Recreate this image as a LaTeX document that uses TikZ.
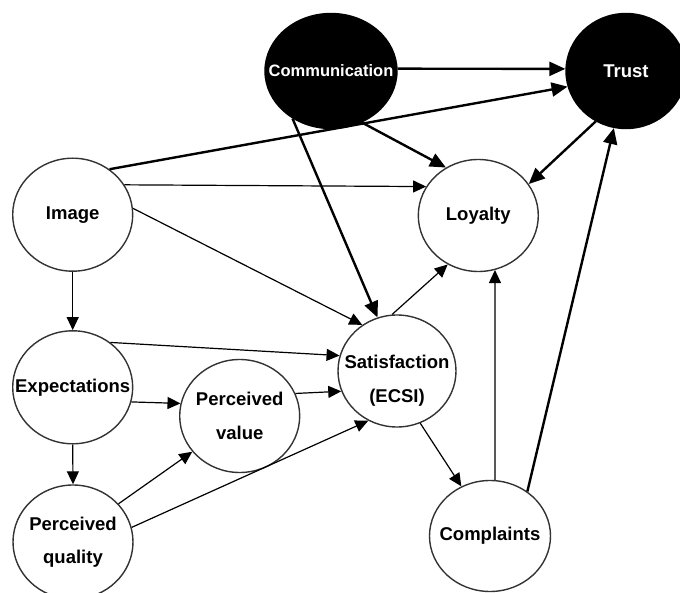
\documentclass[tikz,border=0pt]{standalone}
\usepackage{fontspec}
\setsansfont{Liberation Sans}
\usetikzlibrary{arrows.meta, shapes.geometric}

% zero-width line, so the ellipse keeps its fixed size
\newcommand{\ctext}[1]{\makebox[0pt]{#1}}

\begin{document}
\begin{tikzpicture}[x=1pt, y=-1pt, font=\sffamily\bfseries\fontsize{18.5}{33.5}\selectfont]

  % Styles
  \tikzset{
    construct/.style={ellipse, draw=black!80, line width=1.4pt, fill=white,
      minimum width=120pt, minimum height=113pt, inner sep=0pt, align=center},
    dark construct/.style={construct, draw=black, fill=black, text=white,
      minimum height=115pt},
    link/.style={-{Triangle[length=13pt,width=12pt]}, line width=1.2pt},
    strong link/.style={-{Triangle[length=16pt,width=14pt]}, line width=2.4pt}
  }

  \useasboundingbox (0,0) rectangle (680,593);
  \clip (0,0) rectangle (680,593);

  %% Constructs
  \node[dark construct, minimum width=132pt,
        font=\sffamily\bfseries\fontsize{16.5}{20}\selectfont]
    (comm) at (331,71) {\ctext{Communication}};
  \node[dark construct] (trust) at (626,71) {\ctext{Trust}};

  \node[construct] (image) at (72.7,214.7) {\ctext{Image}};
  \node[construct, minimum height=112pt] (loyalty) at (478.3,215.5) {\ctext{Loyalty}};
  \node[construct] (expect) at (72.7,387.3) {\ctext{Expectations}};
  \node[construct] (pvalue) at (239.7,416) {\ctext{Perceived}\\\ctext{value}};
  \node[construct, minimum width=118pt, minimum height=112pt]
    (satis) at (397,371) {\ctext{\rule{0pt}{33pt}Satisfaction}\\\ctext{(ECSI)}};
  \node[construct, minimum height=114pt]
    (pquality) at (73,542) {\ctext{Perceived}\\\ctext{quality}};
  \node[construct, minimum width=121pt, minimum height=111pt]
    (complaints) at (490,536) {\ctext{Complaints}};

  %% Extended paths (bold)
  \draw[strong link] (comm.2) -- (trust.178);
  \draw[strong link] (image.51) -- (trust.195);
  \draw[strong link] (comm.-59) -- (loyalty.124);
  \draw[strong link] (comm.-129) -- (satis.110);
  \draw[strong link] (trust.239) -- (loyalty.32);
  \draw[strong link] (complaints.50) -- (trust.258);

  %% ECSI paths
  \draw[link] (image.30) -- (loyalty.151);
  \draw[link] (image.6) -- (satis.127);
  \draw[link] (image.south) -- (expect.north);
  \draw[link] (expect.south) -- (pquality.north);
  \draw[link] (expect.50) -- (satis.165);
  \draw[link] (expect.-14) -- (pvalue.168);
  \draw[link] (pvalue.22) -- (satis.200);
  \draw[link] (pquality.40) -- (pvalue.217);
  \draw[link] (pquality.14) -- (satis.240);
  \draw[link] (satis.-66) -- (complaints.120);
  \draw[link] (satis.95) -- (loyalty.238);
  \draw[link] (complaints.85) -- (loyalty.-73);

\end{tikzpicture}
\end{document}
